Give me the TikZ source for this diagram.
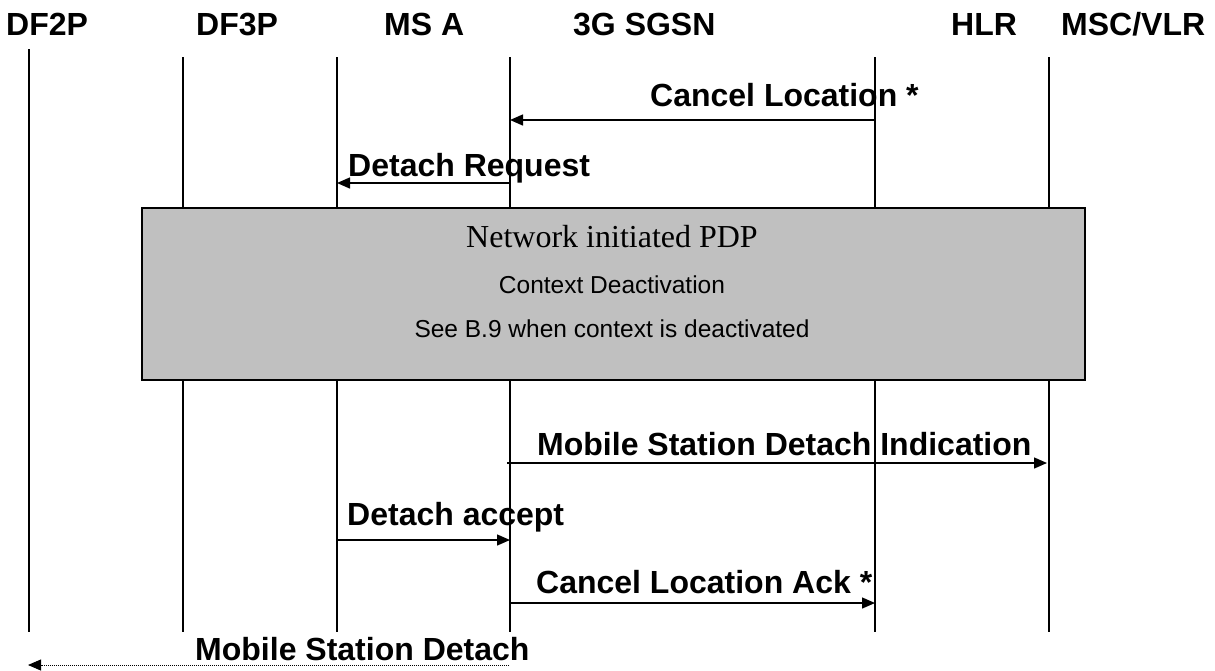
\documentclass[tikz,border=0pt]{standalone}
\usepackage{fontspec}
\setmainfont{Liberation Sans}
\newfontfamily\serifm{Liberation Serif}
\usetikzlibrary{arrows.meta}
\definecolor{boxgray}{RGB}{192,192,192}
\begin{document}
\begin{tikzpicture}[x=1pt,y=-1pt,
  life/.style={line width=1.4pt},
  msg/.style={line width=1.4pt,-{Triangle[length=13pt,width=11pt]}},
  dmsg/.style={line width=0.9pt,dash pattern=on 0.9pt off 1.1pt,-{Triangle[length=13pt,width=11pt]}},
  hdr/.style={font=\fontsize{32}{32}\selectfont\bfseries,anchor=base west,inner sep=0pt},
  lbl/.style={font=\fontsize{32}{32}\selectfont\bfseries,anchor=base west,inner sep=0pt},
  boxtxt/.style={font=\fontsize{24.5}{24.5}\selectfont,anchor=base,inner sep=0pt}]
\useasboundingbox (0,0) rectangle (1215,670);

% headers
\node[hdr] (hdf2) at (6,35) {DF2P};
\node[hdr] (hdf3) at (196,35) {DF3P};
\node[hdr] (hms) at (384,35) {MS A};
\node[hdr] (hsgsn) at (573,35) {3G SGSN};
\node[hdr] (hhlr) at (951,35) {HLR};
\node[hdr] (hmsc) at (1061,35) {MSC/VLR};

% lifelines
\coordinate (df2t) at (29,49);   \coordinate (df2b) at (29,632);
\coordinate (df3t) at (183,57);  \coordinate (df3b) at (183,632);
\coordinate (mst) at (337,57);   \coordinate (msb) at (337,632);
\coordinate (sgt) at (510,57);   \coordinate (sgb) at (510,632);
\coordinate (hlt) at (875,57);   \coordinate (hlb) at (875,632);
\coordinate (mct) at (1049,57);  \coordinate (mcb) at (1049,632);
\draw[life] (df2t) -- (df2b);
\draw[life] (df3t) -- (df3b);
\draw[life] (mst) -- (msb);
\draw[life] (sgt) -- (sgb);
\draw[life] (hlt) -- (hlb);
\draw[life] (mct) -- (mcb);

% box
\node[draw,fill=boxgray,line width=2pt,minimum width=943pt,minimum height=172pt,anchor=north west,inner sep=0pt] (box) at (141,207) {};
\node[font=\serifm\fontsize{32}{32}\selectfont,anchor=base,inner sep=0pt] (bt1) at (612,247) {Network initiated PDP};
\node[boxtxt] (bt2) at (612,293) {Context Deactivation};
\node[boxtxt] (bt3) at (612,337) {See B.9 when context is deactivated};

% messages
\coordinate (m1a) at (875,120); \coordinate (m1b) at (510,120);
\draw[msg] (m1a) -- (m1b);
\node[lbl] (l1) at (650,106) {Cancel Location *};

\coordinate (m2a) at (510,183); \coordinate (m2b) at (337,183);
\draw[msg] (m2a) -- (m2b);
\node[lbl] (l2) at (348,176) {Detach Request};

\coordinate (m3a) at (507,463); \coordinate (m3b) at (1047,463);
\draw[msg] (m3a) -- (m3b);
\node[lbl] (l3) at (537,455) {Mobile Station Detach Indication};

\coordinate (m4a) at (337,540); \coordinate (m4b) at (510,540);
\draw[msg] (m4a) -- (m4b);
\node[lbl] (l4) at (347,525) {Detach accept};

\coordinate (m5a) at (510,603); \coordinate (m5b) at (875,603);
\draw[msg] (m5a) -- (m5b);
\node[lbl] (l5) at (536,593) {Cancel Location Ack *};

\coordinate (m6a) at (509,665); \coordinate (m6b) at (28,665);
\draw[dmsg] (m6a) -- (m6b);
\node[lbl] (l6) at (195,660) {Mobile Station Detach};
\end{tikzpicture}
\end{document}
